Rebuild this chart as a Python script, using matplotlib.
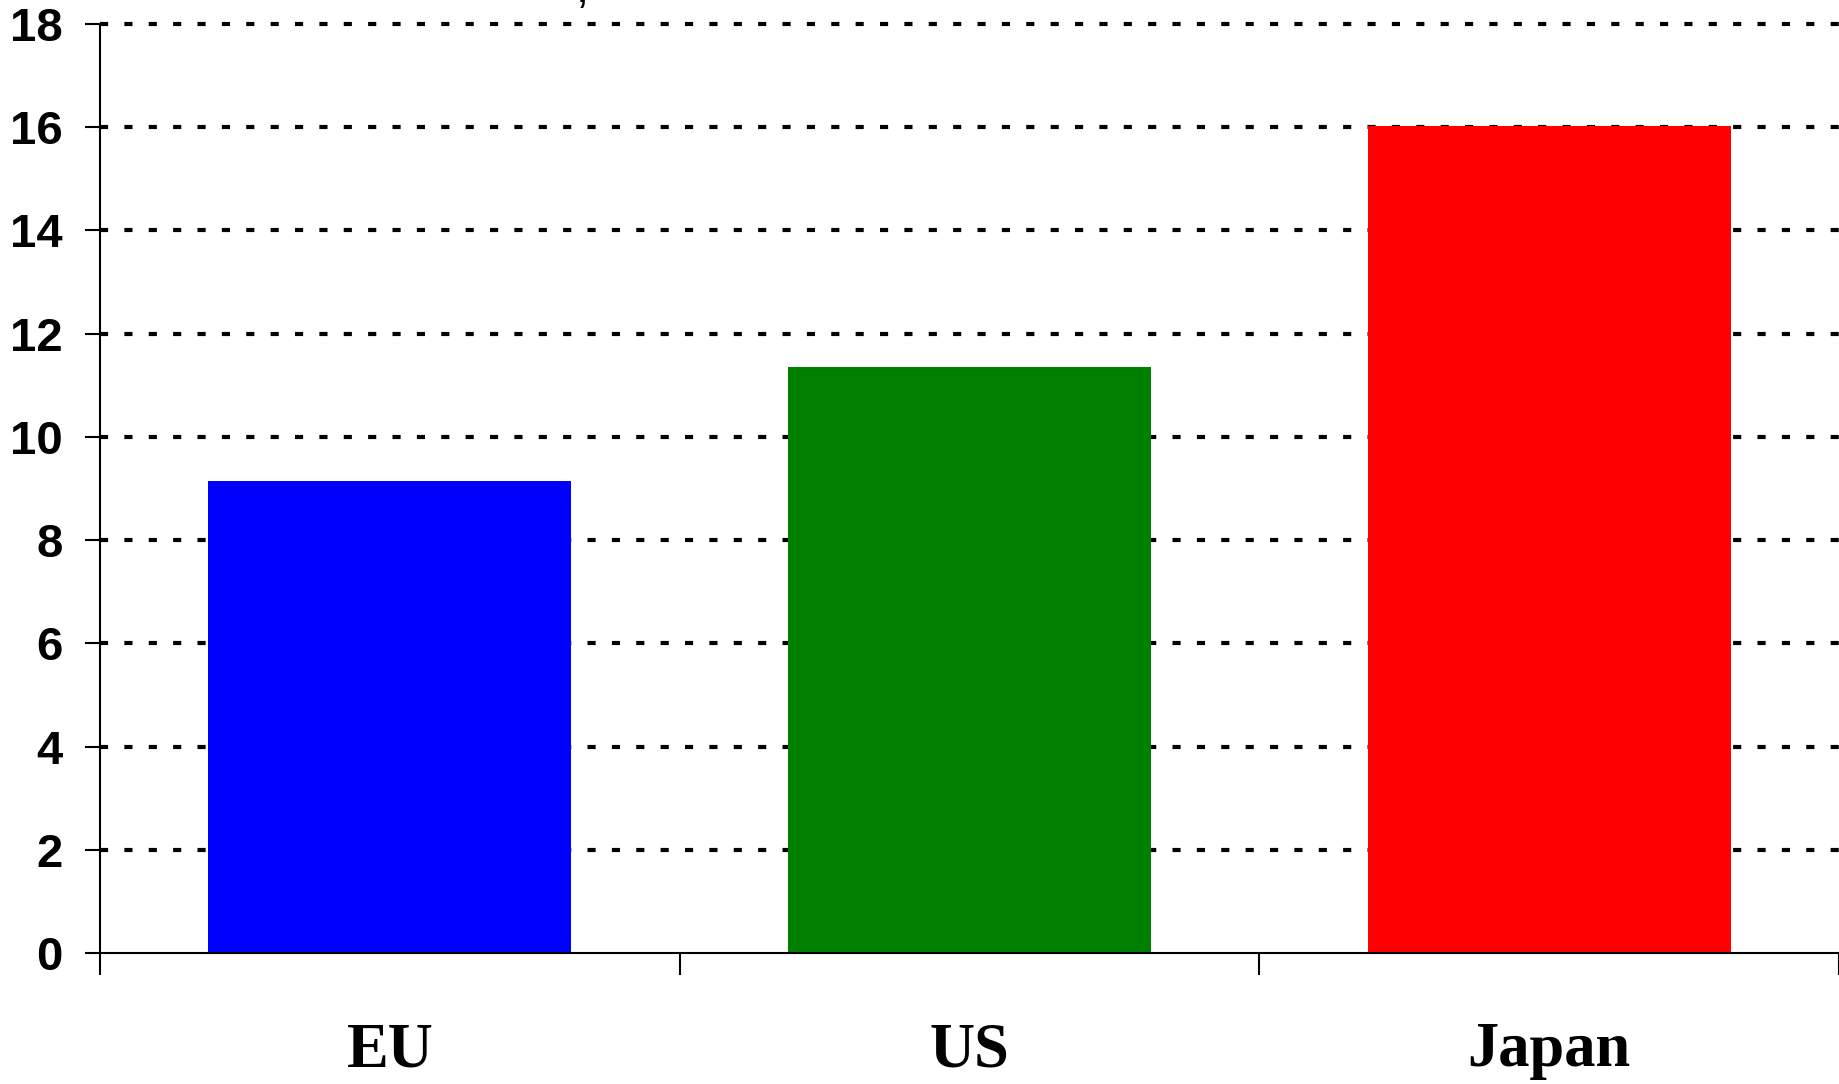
import matplotlib
matplotlib.use('Agg')
import matplotlib.pyplot as plt
import numpy as np

regions = ['EU', 'US', 'Japan']
values = [9.15, 11.35, 16.03]
colors = ['#0000FF', '#008000', '#FF0000']
yticks = [0, 2, 4, 6, 8, 10, 12, 14, 16, 18]

W, H = 1839, 1084
fig = plt.figure(figsize=(W / 100, H / 100), dpi=100)
ax = fig.add_axes([100 / W, 131 / H, (W - 100) / W, 929 / H])

x = np.arange(len(regions))
ax.bar(x, values, width=0.626, color=colors, zorder=3)

ax.set_xlim(-0.5, len(regions) - 0.5)
ax.set_ylim(0, 18)

# dotted grid, square dashes
for v in yticks[1:]:
    ax.axhline(v, color='black', lw=3.0, ls=(0, (1.95, 3.9)),
               dash_capstyle='butt', zorder=1, clip_on=False)

for side in ['top', 'right']:
    ax.spines[side].set_visible(False)
for side in ['left', 'bottom']:
    ax.spines[side].set_linewidth(1.5)
    ax.spines[side].set_zorder(4)

ax.set_yticks(yticks)
ax.set_yticklabels([str(v) for v in yticks], fontfamily='Liberation Sans',
                   fontweight='bold', fontsize=34)
ax.tick_params(axis='y', length=11, width=1.5, pad=16)

ax.set_xticks(np.arange(-0.5, len(regions), 1.0))
ax.set_xticklabels([])
ax.tick_params(axis='x', which='major', length=16, width=1.5)
ax.set_xticks(x, minor=True)
ax.set_xticklabels(regions, minor=True, fontfamily='Liberation Serif',
                   fontweight='bold', fontsize=45)
ax.tick_params(axis='x', which='minor', length=0, pad=50)

# clipped fragment of the title above the chart
fig.text(582 / W, 1 - 2 / H, ',', fontfamily='Liberation Sans', fontsize=34,
         ha='center', va='baseline')

fig.savefig('out.png', dpi=100, facecolor='white')
